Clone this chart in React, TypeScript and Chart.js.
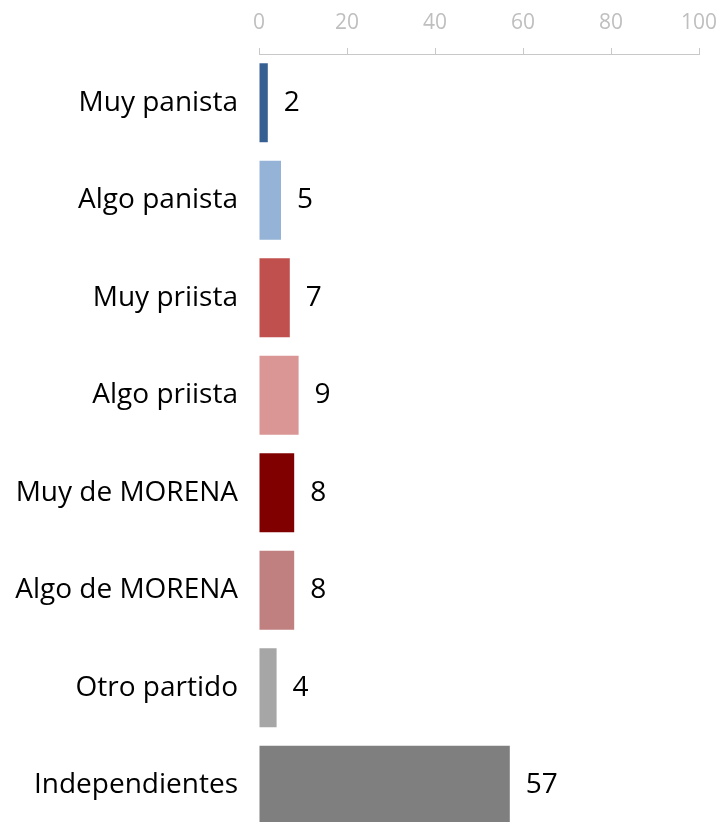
import React, { useEffect, useRef } from "react";
import { Chart, registerables } from "chart.js";

Chart.register(...registerables);

const categories = [
  "Muy panista",
  "Algo panista",
  "Muy priista",
  "Algo priista",
  "Muy de MORENA",
  "Algo de MORENA",
  "Otro partido",
  "Independientes",
];
const values = [2, 5, 7, 9, 8, 8, 4, 57];
const barColors = [
  "#376092",
  "#95b3d7",
  "#c0504d",
  "#d99694",
  "#800000",
  "#c08080",
  "#a6a6a6",
  "#7f7f7f",
];
const xTicks = [0, 20, 40, 60, 80, 100];

const FONT = "'Open Sans', 'Noto Sans', sans-serif";

const valueLabels = {
  id: "valueLabels",
  afterDatasetsDraw(chart: any) {
    const ctx = chart.ctx;
    const meta = chart.getDatasetMeta(0);
    ctx.save();
    ctx.font = `28px ${FONT}`;
    ctx.fillStyle = "#000000";
    ctx.textAlign = "left";
    ctx.textBaseline = "middle";
    meta.data.forEach((bar: any, i: number) => {
      ctx.fillText(String(values[i]), bar.x + 16, bar.y);
    });
    ctx.restore();
  },
};

const zeroPad = (scale: any) => {
  scale.paddingTop = 0;
  scale.paddingBottom = 0;
  scale.paddingLeft = 0;
  scale.paddingRight = 0;
};

export default function App() {
  const ref = useRef<HTMLCanvasElement | null>(null);

  useEffect(() => {
    if (!ref.current) return;
    const chart = new Chart(ref.current, {
      type: "bar",
      data: {
        labels: categories,
        datasets: [
          {
            data: values,
            backgroundColor: barColors,
            borderWidth: 0,
            barPercentage: 0.9,
            categoryPercentage: 0.9,
          },
        ],
      },
      options: {
        indexAxis: "y",
        responsive: false,
        animation: false,
        layout: { padding: { top: 0, right: 23, bottom: 0, left: 0 } },
        plugins: {
          legend: { display: false },
          tooltip: { enabled: false },
        },
        scales: {
          x: {
            position: "top",
            min: 0,
            max: 100,
            afterBuildTicks: (scale: any) => {
              scale.ticks = xTicks.map((v) => ({ value: v }));
            },
            afterFit: (scale: any) => {
              scale.height = 54;
              zeroPad(scale);
            },
            ticks: {
              color: "#bfbfbf",
              font: { family: FONT, size: 21 },
              padding: 12,
              maxRotation: 0,
            },
            grid: {
              display: true,
              drawOnChartArea: false,
              drawTicks: true,
              tickLength: 6,
              color: "#c8c8c8",
              lineWidth: 1,
            },
            border: { display: true, color: "#c8c8c8", width: 1 },
          },
          y: {
            afterFit: (scale: any) => {
              scale.width = 259;
              zeroPad(scale);
            },
            ticks: {
              color: "#000000",
              font: { family: FONT, size: 28 },
              padding: 21,
            },
            grid: { display: false, drawTicks: false },
            border: { display: false },
          },
        },
      },
      plugins: [valueLabels],
    });
    return () => chart.destroy();
  }, []);

  return (
    <div
      style={{
        position: "absolute",
        left: 0,
        top: 0,
        width: 722,
        height: 822,
        overflow: "hidden",
        background: "#ffffff",
      }}
    >
      <canvas ref={ref} width={722} height={834} style={{ display: "block" }} />
    </div>
  );
}
